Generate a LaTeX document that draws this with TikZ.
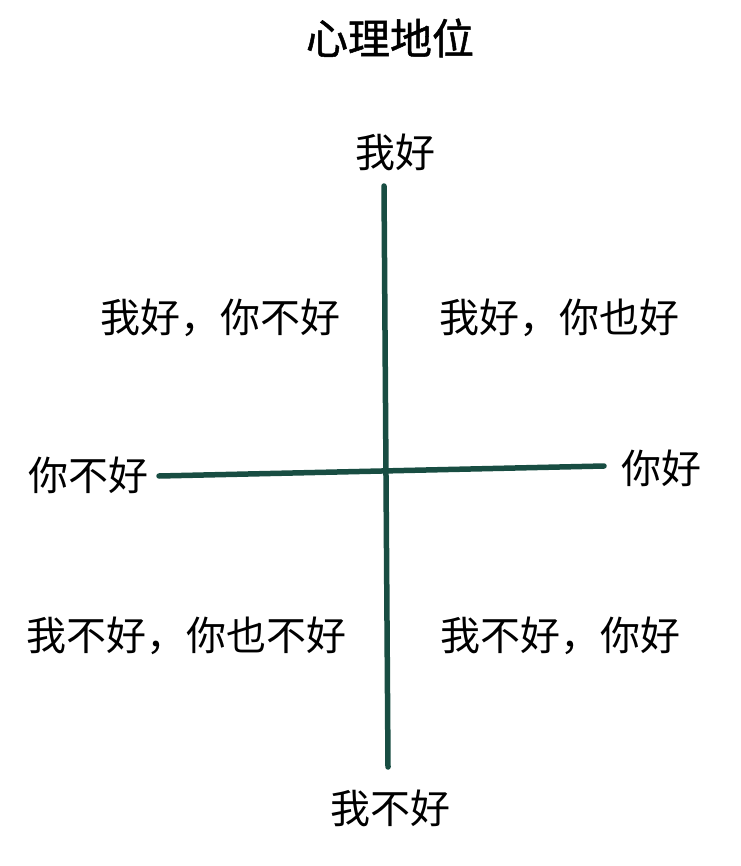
\documentclass[tikz,border=0pt]{standalone}
\usepackage{fontspec}
\newfontfamily\cjk{Noto Sans CJK SC}
\newfontfamily\cjkhead[FakeBold=1.2]{Noto Sans CJK SC}
\definecolor{axisgreen}{HTML}{184D42}

\begin{document}
\begin{tikzpicture}[x=1pt,y=-1pt,
        lbl/.style={font=\cjk\fontsize{40}{42}\selectfont, inner sep=0pt, anchor=center},
        ttl/.style={font=\cjkhead\fontsize{42}{44}\selectfont, inner sep=0pt, anchor=center},
        axis/.style={draw=axisgreen, line width=5.5pt, line cap=round}]

        \useasboundingbox (0,0) rectangle (740,866);

        \node[ttl] (title) at (390,38) {心理地位};

        \node[lbl] (ok_me) at (395,152) {我好};
        \node[lbl] (notok_me) at (390,808) {我不好};
        \node[lbl] (notok_you) at (88,475) {你不好};
        \node[lbl] (ok_you) at (661,468) {你好};

        \node[lbl] (q1) at (220,318) {我好，你不好};
        \node[lbl] (q2) at (559,318) {我好，你也好};
        \node[lbl] (q3) at (186,636) {我不好，你也不好};
        \node[lbl] (q4) at (560,636) {我不好，你好};

        % axes
        \coordinate (top) at (384,186);
        \coordinate (bottom) at (388,767);
        \coordinate (left) at (159,476);
        \coordinate (right) at (604,466);

        \draw[axis] (top) -- (bottom);
        \draw[axis] (left) -- (right);
    \end{tikzpicture}
\end{document}
